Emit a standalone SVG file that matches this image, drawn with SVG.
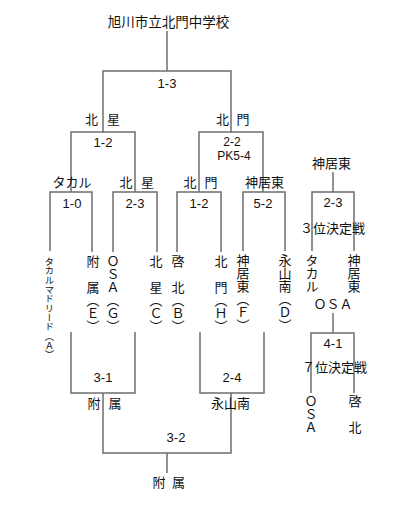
<svg xmlns="http://www.w3.org/2000/svg" width="400" height="511" viewBox="0 0 400 511">
<style>
  .ln{fill:none;stroke:#6e6e6e;stroke-width:1.5}
  text{font-family:"Noto Sans CJK JP","Noto Sans",sans-serif;font-size:13px;fill:#111}
  .c{text-anchor:middle}
  .sc{font-family:"Liberation Sans","Noto Sans CJK JP",sans-serif;font-size:13px;text-anchor:middle}
  .pk{font-size:12px}
  .v{writing-mode:vertical-rl;text-orientation:upright}
  .vs{writing-mode:vertical-rl;text-orientation:upright;font-size:9.3px}
</style>
<rect width="400" height="511" fill="#fff"/>
<g id="connectors">
  <path class="ln" d="M167,31V71"/>
  <path class="ln" d="M103,132V71H231V132"/>
  <path class="ln" d="M71,192V132H135V192"/>
  <path class="ln" d="M199,192V132H263V192"/>
  <path class="ln" d="M50,251V192H92V252"/>
  <path class="ln" d="M113,252V192H157V252"/>
  <path class="ln" d="M177,252V192H221V252"/>
  <path class="ln" d="M243,251V192H285V251"/>
  <path class="ln" d="M333,172V192"/>
  <path class="ln" d="M312,251V192H354V251"/>
  <path class="ln" d="M333,313V333"/>
  <path class="ln" d="M311,393V333H354V393"/>
  <path class="ln" d="M71,332V393H135V332"/>
  <path class="ln" d="M200,332V393H264V332"/>
  <path class="ln" d="M103,393V453H231V393"/>
  <path class="ln" d="M167,453V473"/>
</g>
<g id="title"><text class="c" x="168.5" y="27" style="font-size:13.5px">旭川市立北門中学校</text></g>
<g id="final"><text class="sc" x="167" y="88">1-3</text></g>
<g id="sf-winner-kitahoshi"><text class="c" x="91.5 113.5" y="124">北星</text></g>
<g id="sf-winner-kitamon"><text class="c" x="222.5 243" y="124">北門</text></g>
<g id="semi-left"><text class="sc" x="103" y="147">1-2</text></g>
<g id="semi-right"><text class="sc pk" x="232" y="146">2-2</text><text class="sc pk" x="234" y="159.5">PK5-4</text></g>
<g id="qf-takaru"><text class="c" x="72" y="187">タカル</text></g>
<g id="qf-kitahoshi"><text class="c" x="126 147.5" y="187">北星</text></g>
<g id="qf-kitamon"><text class="c" x="190 211" y="187">北門</text></g>
<g id="qf-kamuihigashi"><text class="c" x="264.5" y="187">神居東</text></g>
<g id="qf1"><text class="sc" x="72" y="208">1-0</text></g>
<g id="qf2"><text class="sc" x="135" y="208">2-3</text></g>
<g id="qf3"><text class="sc" x="199" y="208">1-2</text></g>
<g id="qf4"><text class="sc" x="263" y="208">5-2</text></g>
<g id="team-a"><text class="vs" x="49.5" y="257">タカルマドリード（Ａ）</text></g>
<g id="team-e"><text class="v" x="93" y="255">附　属（Ｅ）</text></g>
<g id="team-g"><text class="v" x="113" y="255">ＯＳＡ（Ｇ）</text></g>
<g id="team-c"><text class="v" x="156" y="255">北　星（Ｃ）</text></g>
<g id="team-b"><text class="v" x="178" y="255">啓　北（Ｂ）</text></g>
<g id="team-h"><text class="v" x="221" y="255">北　門（Ｈ）</text></g>
<g id="team-f"><text class="v" x="243" y="254">神居東（Ｆ）</text></g>
<g id="team-d"><text class="v" x="285" y="254">永山南（Ｄ）</text></g>
<g id="third-winner"><text class="c" x="331.5" y="168">神居東</text></g>
<g id="third-match"><text class="sc" x="333" y="207">2-3</text><text class="c" x="332.5" y="233">３位決定戦</text></g>
<g id="third-takaru"><text class="v" x="312" y="254">タカル</text></g>
<g id="third-kamuihigashi"><text class="v" x="354" y="254">神居東</text></g>
<g id="seventh-winner"><text class="c" x="333" y="309">ＯＳＡ</text></g>
<g id="seventh-match"><text class="sc" x="333" y="348">4-1</text><text class="c" x="334.5" y="372">７位決定戦</text></g>
<g id="seventh-osa"><text class="v" x="311" y="395">ＯＳＡ</text></g>
<g id="seventh-keihoku"><text class="v" x="355" y="395">啓　北</text></g>
<g id="sf1"><text class="sc" x="103" y="382">3-1</text><text class="c" x="94 115" y="408">附属</text></g>
<g id="sf2"><text class="sc" x="232" y="382">2-4</text><text class="c" x="230.5" y="408">永山南</text></g>
<g id="final2"><text class="sc" x="176" y="442">3-2</text></g>
<g id="champion"><text class="c" x="159 178.5" y="487">附属</text></g>
</svg>
